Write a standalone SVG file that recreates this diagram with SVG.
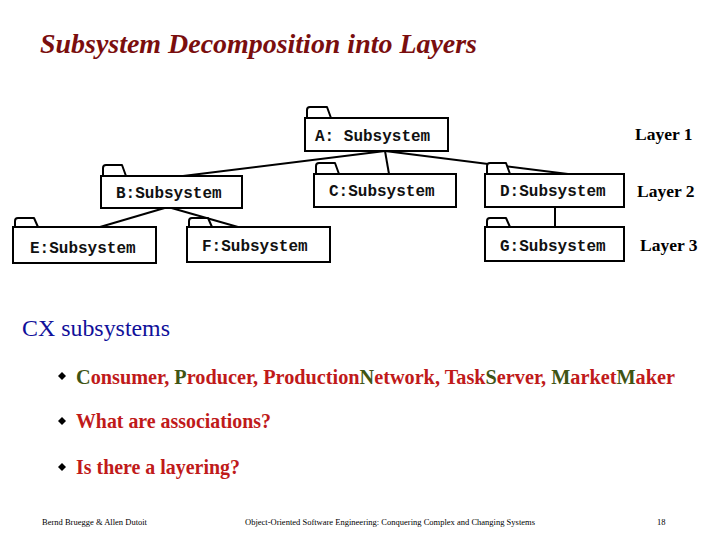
<svg xmlns="http://www.w3.org/2000/svg" width="720" height="540" viewBox="0 0 720 540">
<style>
.box{fill:#fff;stroke:#000;stroke-width:2}
.tab{fill:#fff;stroke:#000;stroke-width:2;stroke-linejoin:round}
.lbl{font-family:"Liberation Mono",monospace;font-weight:bold;font-size:16px;fill:#111}
.layer{font-family:"Liberation Serif",serif;font-weight:bold;font-size:17.5px;fill:#000}
.conn{stroke:#000;stroke-width:2;fill:none}
.bul{font-family:"Liberation Serif",serif;font-weight:bold;font-size:21px}
.r{fill:#c01a1a}
.g{fill:#3f5414}
.foot{font-family:"Liberation Serif",serif;font-size:8.5px;fill:#000}
</style>
<rect width="720" height="540" fill="#fff"/>
<text x="40" y="53" font-family="Liberation Serif,serif" font-weight="bold" font-style="italic" font-size="26.5" fill="#7a0e0e" textLength="437" lengthAdjust="spacingAndGlyphs">Subsystem Decomposition into Layers</text>

<g id="connectors">
<line class="conn" x1="385" y1="151" x2="183" y2="176"/>
<line class="conn" x1="385" y1="151" x2="389" y2="174"/>
<line class="conn" x1="385" y1="151" x2="568" y2="174"/>
<line class="conn" x1="555" y1="207" x2="555" y2="227"/>
<line class="conn" x1="168" y1="207" x2="100" y2="227"/>
<line class="conn" x1="168" y1="207" x2="238" y2="227"/>
</g>

<g id="A">
<path class="tab" d="M307,118 V110 Q307,107 310,107 H327 L331,118"/>
<rect class="box" x="305" y="118" width="143" height="33"/>
<text class="lbl" x="315" y="141">A: Subsystem</text>
</g>
<g id="B">
<path class="tab" d="M103,176 V168 Q103,165 106,165 H122 L126,176"/>
<rect class="box" x="101" y="176" width="141" height="32"/>
<text class="lbl" x="116" y="198">B:Subsystem</text>
</g>
<g id="C">
<path class="tab" d="M316,174 V166 Q316,163 319,163 H335 L339,174"/>
<rect class="box" x="314" y="174" width="142" height="33"/>
<text class="lbl" x="329" y="196">C:Subsystem</text>
</g>
<g id="D">
<path class="tab" d="M487,174 V166 Q487,163 490,163 H506 L510,174"/>
<rect class="box" x="485" y="174" width="139" height="33"/>
<text class="lbl" x="500" y="196">D:Subsystem</text>
</g>
<g id="E">
<path class="tab" d="M15,227 V221 Q15,218 18,218 H34 L38,227"/>
<rect class="box" x="13" y="227" width="143" height="36"/>
<text class="lbl" x="30" y="253">E:Subsystem</text>
</g>
<g id="F">
<path class="tab" d="M189,227 V221 Q189,218 192,218 H208 L212,227"/>
<rect class="box" x="187" y="227" width="143" height="35"/>
<text class="lbl" x="202" y="251">F:Subsystem</text>
</g>
<g id="G">
<path class="tab" d="M487,227 V221 Q487,218 490,218 H506 L510,227"/>
<rect class="box" x="485" y="227" width="139" height="34"/>
<text class="lbl" x="500" y="251">G:Subsystem</text>
</g>

<text class="layer" x="635" y="140">Layer 1</text>
<text class="layer" x="637" y="197">Layer 2</text>
<text class="layer" x="640" y="251">Layer 3</text>

<text x="22" y="336" font-family="Liberation Serif,serif" font-size="23" fill="#10109a" textLength="148" lengthAdjust="spacingAndGlyphs">CX subsystems</text>

<path d="M62,372 L66,376 L62,380 L58,376 Z" fill="#000"/>
<path d="M62,417 L66,421 L62,425 L58,421 Z" fill="#000"/>
<path d="M62,463 L66,467 L62,471 L58,467 Z" fill="#000"/>

<text class="bul" x="76" y="384" style="font-size:20.25px"><tspan class="g">C</tspan><tspan class="r">onsumer, </tspan><tspan class="g">P</tspan><tspan class="r">roducer, Production</tspan><tspan class="g">N</tspan><tspan class="r">etwork, Task</tspan><tspan class="g">S</tspan><tspan class="r">erver, </tspan><tspan class="g">M</tspan><tspan class="r">arket</tspan><tspan class="g">M</tspan><tspan class="r">aker</tspan></text>
<text class="bul r" x="76" y="428" textLength="195" lengthAdjust="spacingAndGlyphs">What are associations?</text>
<text class="bul r" x="76" y="474" textLength="164" lengthAdjust="spacingAndGlyphs">Is there a layering?</text>

<text class="foot" x="42" y="525" textLength="105" lengthAdjust="spacingAndGlyphs">Bernd Bruegge &amp; Allen Dutoit</text>
<text class="foot" x="245" y="525" textLength="290" lengthAdjust="spacingAndGlyphs">Object-Oriented Software Engineering: Conquering Complex and Changing Systems</text>
<text class="foot" x="657" y="525">18</text>
</svg>
